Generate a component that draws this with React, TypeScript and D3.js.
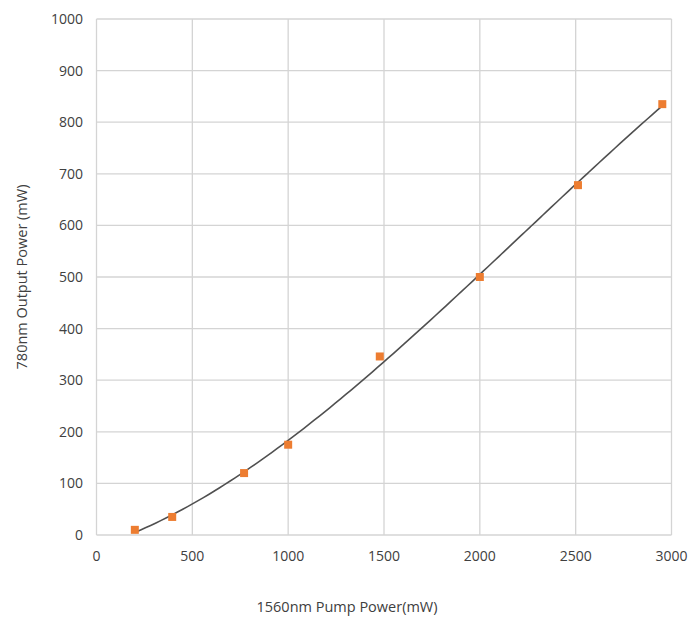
import React from "react";
import * as d3 from "d3";

const pumpPower = [200, 395, 770, 1000, 1478, 2000, 2512, 2952];
const outputPower = [10, 35, 120, 175, 346, 500, 678, 835];
const xTicks = [0, 500, 1000, 1500, 2000, 2500, 3000];
const yTicks = [0, 100, 200, 300, 400, 500, 600, 700, 800, 900, 1000];
const xTitle = "1560nm Pump Power(mW)";
const yTitle = "780nm Output Power (mW)";

function polyFit(xsRaw: number[], ys: number[], deg: number) {
  const xs = xsRaw.map((v) => v / 1000);
  const n = deg + 1;
  const M: number[][] = [];
  for (let i = 0; i < n; i++) {
    const row: number[] = [];
    for (let j = 0; j < n; j++) {
      row.push(d3.sum(xs, (x) => Math.pow(x, i + j)));
    }
    row.push(d3.sum(xs, (x, k) => ys[k] * Math.pow(x, i)));
    M.push(row);
  }
  for (let i = 0; i < n; i++) {
    for (let j = i + 1; j < n; j++) {
      const f = M[j][i] / M[i][i];
      for (let k = i; k <= n; k++) M[j][k] -= f * M[i][k];
    }
  }
  const c = new Array(n).fill(0);
  for (let i = n - 1; i >= 0; i--) {
    let v = M[i][n];
    for (let k = i + 1; k < n; k++) v -= M[i][k] * c[k];
    c[i] = v / M[i][i];
  }
  return (xr: number) => {
    const x = xr / 1000;
    return c.reduce((s, ci, i) => s + ci * Math.pow(x, i), 0);
  };
}

export default function App() {
  const W = 693, H = 617;
  const x = d3.scaleLinear().domain([0, 3000]).range([96.5, 671.5]);
  const y = d3.scaleLinear().domain([0, 1000]).range([535, 19]);
  const fit = polyFit(pumpPower, outputPower, 3);
  const x0 = pumpPower[0], x1 = pumpPower[pumpPower.length - 1];
  const curvePts = d3.range(0, 101).map((i) => {
    const xv = x0 + ((x1 - x0) * i) / 100;
    return [xv, fit(xv)] as [number, number];
  });
  const line = d3
    .line<[number, number]>()
    .x((d) => x(d[0]))
    .y((d) => y(d[1]))
    .curve(d3.curveBasis);
  const font = "'Open Sans', 'Noto Sans', sans-serif";
  return (
    <svg
      width={W}
      height={H}
      style={{ position: "absolute", left: 0, top: 0, background: "#fff" }}
    >
      <g>
        {xTicks.map((t) => (
          <line
            key={"gx" + t}
            x1={x(t)}
            x2={x(t)}
            y1={y(0)}
            y2={y(1000)}
            stroke="#d4d4d4"
            strokeWidth={1.3}
          />
        ))}
        {yTicks.map((t) => (
          <line
            key={"gy" + t}
            x1={x(0)}
            x2={x(3000)}
            y1={y(t)}
            y2={y(t)}
            stroke="#d4d4d4"
            strokeWidth={1.3}
          />
        ))}
      </g>
      <g fontFamily={font} fontSize={14} fill="#404040">
        {xTicks.map((t) => (
          <text key={"tx" + t} x={x(t)} y={561} textAnchor="middle">
            {t}
          </text>
        ))}
        {yTicks.map((t) => (
          <text key={"ty" + t} x={83} y={y(t) + 5} textAnchor="end">
            {t}
          </text>
        ))}
      </g>
      <path
        d={line(curvePts) || ""}
        fill="none"
        stroke="#505050"
        strokeWidth={1.6}
      />
      {pumpPower.map((p, i) => (
        <rect
          key={"m" + i}
          x={x(p) - 4}
          y={y(outputPower[i]) - 4}
          width={8}
          height={8}
          fill="#ED7D31"
        />
      ))}
      <text
        x={347}
        y={612}
        textAnchor="middle"
        fontFamily={font}
        fontSize={14.5}
        fill="#404040"
      >
        {xTitle}
      </text>
      <text
        transform={`translate(27, ${(y(0) + y(1000)) / 2}) rotate(-90)`}
        textAnchor="middle"
        fontFamily={font}
        fontSize={14.5}
        fill="#404040"
      >
        {yTitle}
      </text>
    </svg>
  );
}
